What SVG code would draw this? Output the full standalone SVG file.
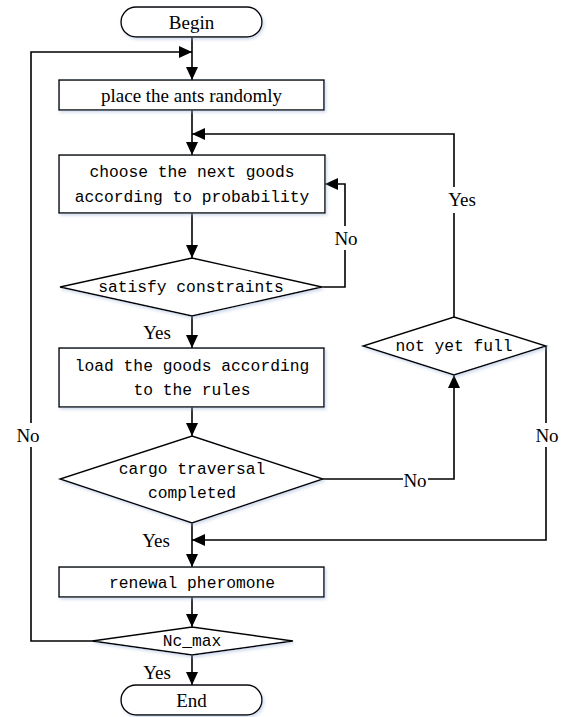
<svg xmlns="http://www.w3.org/2000/svg" width="570" height="717" viewBox="0 0 570 717">
<defs>
<marker id="ah" viewBox="0 0 13 12" markerWidth="13" markerHeight="12" refX="13" refY="6" orient="auto" markerUnits="userSpaceOnUse"><path d="M0,0 L13,6 L0,12 z" fill="#000"/></marker>
<filter id="sh" x="-10%" y="-20%" width="120%" height="140%"><feDropShadow dx="1.5" dy="2" stdDeviation="1.5" flood-color="#9fb4d8" flood-opacity="0.45"/></filter>
<style>
.s{fill:#fff;stroke:#000;stroke-width:1.4;filter:url(#sh)}
.c{fill:none;stroke:#000;stroke-width:1.6;marker-end:url(#ah)}
.l{fill:none;stroke:#000;stroke-width:1.6}
.t{font-family:"Liberation Serif","Times New Roman",serif;font-size:19px;fill:#000;text-anchor:middle;dominant-baseline:central}
.m{font-family:"Liberation Mono","Courier New",monospace;font-size:16.3px;fill:#000;text-anchor:middle;dominant-baseline:central}
.bg{fill:#fff}
</style>
</defs>
<rect width="570" height="717" fill="#fff"/>
<g id="connectors">
<path class="c" d="M192,37 V80"/>
<path class="c" d="M92,641 H31 V52 H192"/>
<path class="c" d="M192,110 V155"/>
<path class="c" d="M454,317 V134 H192"/>
<path class="c" d="M192,213 V258"/>
<path class="c" d="M322,287 H345 V184 H325"/>
<path class="c" d="M192,316 V348"/>
<path class="c" d="M192,407 V436"/>
<path class="c" d="M323,479 H454 V375"/>
<path class="c" d="M546,346 V540 H192"/>
<path class="c" d="M192,523 V567"/>
<path class="c" d="M192,597 V627"/>
<path class="c" d="M192,655 V685"/>
<rect class="bg" x="334" y="226" width="24" height="24"/>
<text class="t" x="346" y="238">No</text>
<rect class="bg" x="446" y="187" width="32" height="26"/>
<text class="t" x="462" y="199">Yes</text>
<rect class="bg" x="403" y="468" width="25" height="24"/>
<text class="t" x="415" y="480">No</text>
<rect class="bg" x="535" y="423" width="25" height="24"/>
<text class="t" x="547" y="435">No</text>
<rect class="bg" x="16" y="423" width="25" height="24"/>
<text class="t" x="28" y="435">No</text>
<text class="t" x="157" y="332">Yes</text>
<text class="t" x="156" y="540">Yes</text>
<text class="t" x="157" y="672">Yes</text>
</g>
<g id="begin">
<rect class="s" x="121" y="7" width="141" height="30" rx="15" ry="15"/>
<text class="t" x="191.5" y="22">Begin</text>
</g>
<g id="place">
<rect class="s" x="59" y="80" width="265" height="30"/>
<text class="t" x="191.5" y="95">place the ants randomly</text>
</g>
<g id="choose">
<rect class="s" x="59" y="155" width="266" height="58"/>
<text class="m" x="192" y="172">choose the next goods</text>
<text class="m" x="192" y="197">according to probability</text>
</g>
<g id="satisfy">
<polygon class="s" points="192,258 322,287 192,316 60,287"/>
<text class="m" x="191" y="287">satisfy constraints</text>
</g>
<g id="load">
<rect class="s" x="59" y="348" width="265" height="59"/>
<text class="m" x="192" y="366">load the goods according</text>
<text class="m" x="192" y="390">to the rules</text>
</g>
<g id="cargo">
<polygon class="s" points="192,436 323,479 192,523 60,479"/>
<text class="m" x="192" y="469">cargo traversal</text>
<text class="m" x="192" y="493">completed</text>
</g>
<g id="notyetfull">
<polygon class="s" points="454,317 546,346 454,375 363,346"/>
<text class="m" x="454" y="346">not yet full</text>
</g>
<g id="renewal">
<rect class="s" x="59" y="567" width="265" height="30"/>
<text class="m" x="192" y="583">renewal pheromone</text>
</g>
<g id="ncmax">
<polygon class="s" points="192,627 293,641 192,655 92,641"/>
<text class="m" x="192" y="641">Nc_max</text>
</g>
<g id="end">
<rect class="s" x="121" y="685" width="141" height="30" rx="15" ry="15"/>
<text class="t" x="191.5" y="700">End</text>
</g>
</svg>
